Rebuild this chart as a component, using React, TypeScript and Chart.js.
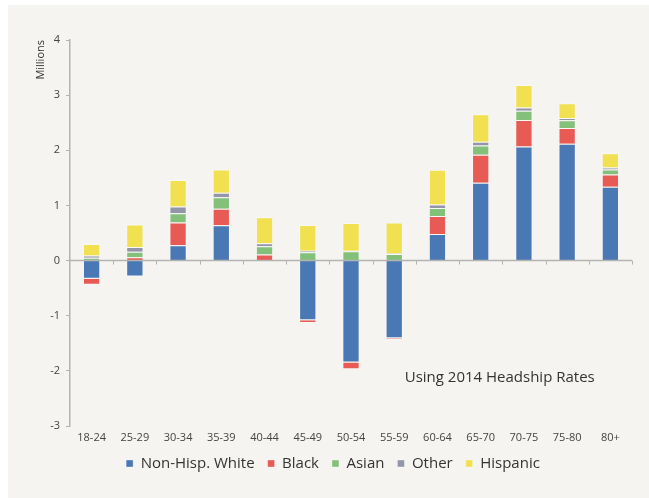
import React, { useEffect, useRef } from "react";
import { Chart, registerables } from "chart.js";

Chart.register(...registerables);

const categories = ["18-24", "25-29", "30-34", "35-39", "40-44", "45-49", "50-54", "55-59", "60-64", "65-70", "70-75", "75-80", "80+"];
const white = [-0.33, -0.29, 0.28, 0.64, 0, -1.08, -1.85, -1.41, 0.48, 1.41, 2.07, 2.12, 1.34];
const black = [-0.11, 0.06, 0.41, 0.3, 0.11, -0.05, -0.12, -0.02, 0.33, 0.51, 0.48, 0.285, 0.22];
const asian = [0.05, 0.1, 0.17, 0.21, 0.15, 0.15, 0.17, 0.12, 0.145, 0.165, 0.165, 0.14, 0.09];
const other = [0.04, 0.085, 0.12, 0.08, 0.055, 0.03, 0.01, 0.01, 0.06, 0.07, 0.06, 0.04, 0.036];
const hispanic = [0.21, 0.41, 0.48, 0.42, 0.47, 0.465, 0.5, 0.56, 0.63, 0.5, 0.41, 0.27, 0.26];
const yTicks = [-3, -2, -1, 0, 1, 2, 3, 4];
const seriesNames = ["Non-Hisp. White", "Black", "Asian", "Other", "Hispanic"];
const seriesColors = ["#4a78b4", "#e85b55", "#83c17b", "#9396a8", "#f1e151"];
const annotationText = "Using 2014 Headship Rates";

const FONT = "'Open Sans', sans-serif";

const zeroLinePlugin = {
  id: "zeroLine",
  afterDatasetsDraw(chart: any) {
    const { ctx, chartArea, scales } = chart;
    const x = scales.x;
    const y = scales.y;
    const y0 = y.getPixelForValue(0);
    ctx.save();
    ctx.strokeStyle = "#b3b3b1";
    ctx.lineWidth = 1.5;
    ctx.beginPath();
    ctx.moveTo(chartArea.left, y0);
    ctx.lineTo(chartArea.right, y0);
    ctx.stroke();
    ctx.lineWidth = 1;
    for (let i = 1; i <= categories.length; i++) {
      const xb = Math.round(x.getPixelForValue(i - 0.5)) + 0.5;
      ctx.beginPath();
      ctx.moveTo(xb, y0);
      ctx.lineTo(xb, y0 + 4);
      ctx.stroke();
    }
    ctx.fillStyle = "#333333";
    ctx.font = "15px " + FONT;
    ctx.textAlign = "center";
    ctx.textBaseline = "middle";
    ctx.fillText(annotationText, x.getPixelForValue(9.44), y.getPixelForValue(-2.13));
    ctx.restore();
  },
};

export default function App() {
  const ref = useRef<HTMLCanvasElement | null>(null);
  useEffect(() => {
    if (!ref.current) return;
    const values = [white, black, asian, other, hispanic];
    const chart = new Chart(ref.current, {
      type: "bar",
      data: {
        labels: categories,
        datasets: values.map((v, i) => ({
          label: seriesNames[i],
          data: v,
          backgroundColor: seriesColors[i],
          borderColor: "rgba(255,255,255,0.35)",
          borderWidth: 1,
          barPercentage: 0.4,
          categoryPercentage: 1,
        })),
      },
      options: {
        animation: false,
        responsive: false,
        maintainAspectRatio: false,
        layout: { padding: { left: 26, right: 17, top: 35, bottom: 17 } },
        plugins: {
          tooltip: { enabled: false },
          legend: {
            position: "bottom",
            labels: {
              boxWidth: 7,
              boxHeight: 7,
              padding: 13,
              color: "#333333",
              font: { family: FONT, size: 15 },
            },
          },
        },
        scales: {
          x: {
            stacked: true,
            grid: { display: false, drawTicks: false },
            border: { display: false },
            ticks: { color: "#444444", font: { family: FONT, size: 11 }, padding: 5, maxRotation: 0, autoSkip: false },
            afterFit: (s: any) => {
              s.height = 17;
            },
          },
          y: {
            stacked: true,
            min: -3,
            max: 4,
            afterBuildTicks: (s: any) => {
              s.ticks = yTicks.map((v) => ({ value: v }));
            },
            grid: { display: true, drawOnChartArea: false, drawTicks: true, tickLength: 4, color: "#b3b3b1", lineWidth: 1 },
            border: { display: true, color: "#b3b3b1", width: 1.5 },
            ticks: { color: "#444444", font: { family: FONT, size: 11 }, padding: 6 },
            title: {
              display: true,
              text: "Millions",
              align: "end",
              color: "#333333",
              font: { family: FONT, size: 11 },
              padding: { top: 0, bottom: 0 },
            },
            afterFit: (s: any) => {
              s.width = 36;
            },
          },
        },
      },
      plugins: [zeroLinePlugin],
    } as any);
    return () => chart.destroy();
  }, []);

  return (
    <div style={{ position: "fixed", left: 0, top: 0, width: 649, height: 498, background: "#ffffff" }}>
      <div style={{ position: "absolute", left: 8, top: 5, width: 641, height: 493, background: "#f5f4f0" }}>
        <canvas ref={ref} width={641} height={493} style={{ display: "block", width: 641, height: 493 }} />
      </div>
    </div>
  );
}
